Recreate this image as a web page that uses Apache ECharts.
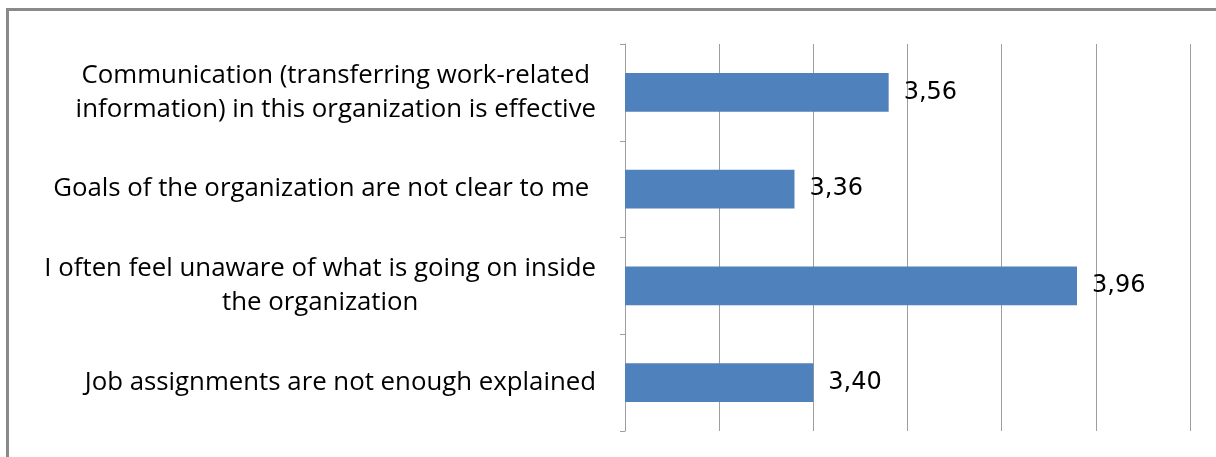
<!DOCTYPE html>
<html>
<head>
<meta charset="utf-8">
<script src="https://cdn.jsdelivr.net/npm/echarts@6/dist/echarts.min.js"></script>
<style>
html,body{margin:0;padding:0;background:#fff;}
#chart{width:1216px;height:457px;}
</style>
</head>
<body>
<div id="chart"></div>
<script>
const categories = [
  "Communication (transferring work-related\ninformation) in this organization is effective",
  "Goals of the organization are not clear to me ",
  "I often feel unaware of what is going on inside\nthe organization",
  "Job assignments are not enough explained"
];
const values = [3.56, 3.36, 3.96, 3.40];
const axisMin = 3.0;
const axisMax = 4.2;
const axisStep = 0.2;

const chart = echarts.init(document.getElementById('chart'));
const catFont = '"Open Sans", Lato, sans-serif';
chart.setOption({
  animation: false,
  backgroundColor: '#fff',
  graphic: [{
    type: 'rect',
    shape: {x: 7.5, y: 9.5, width: 1400, height: 600},
    style: {fill: 'none', stroke: '#8a8a8a', lineWidth: 3},
    silent: true
  }],
  grid: {left: 625, right: 26, top: 44, bottom: 26, containLabel: false},
  xAxis: {
    type: 'value',
    min: axisMin, max: axisMax, interval: axisStep,
    axisLine: {show: false},
    axisTick: {show: false},
    axisLabel: {show: false},
    splitLine: {show: true, lineStyle: {color: '#9e9e9e', width: 1}}
  },
  yAxis: {
    type: 'category',
    data: categories,
    inverse: true,
    axisLine: {show: true, lineStyle: {color: '#9e9e9e', width: 1}},
    axisTick: {show: true, length: 5, lineStyle: {color: '#9e9e9e'}},
    axisLabel: {
      margin: 29,
      align: 'right',
      color: '#000',
      formatter: function (v) {
        return v.split('\n').map(s => '{c|' + s + '}').join('\n');
      },
      rich: {
        c: {align: 'center', fontFamily: catFont, fontSize: 25.8, lineHeight: 34, color: '#000'}
      }
    }
  },
  series: [{
    type: 'bar',
    data: values,
    barCategoryGap: '60%',
    itemStyle: {color: '#4F81BD'},
    label: {
      show: true,
      position: 'right',
      distance: 15,
      color: '#000',
      fontFamily: '"DejaVu Sans", Verdana, sans-serif',
      fontSize: 24,
      formatter: p => p.value.toFixed(2).replace('.', ',')
    }
  }]
});
</script>
</body>
</html>
